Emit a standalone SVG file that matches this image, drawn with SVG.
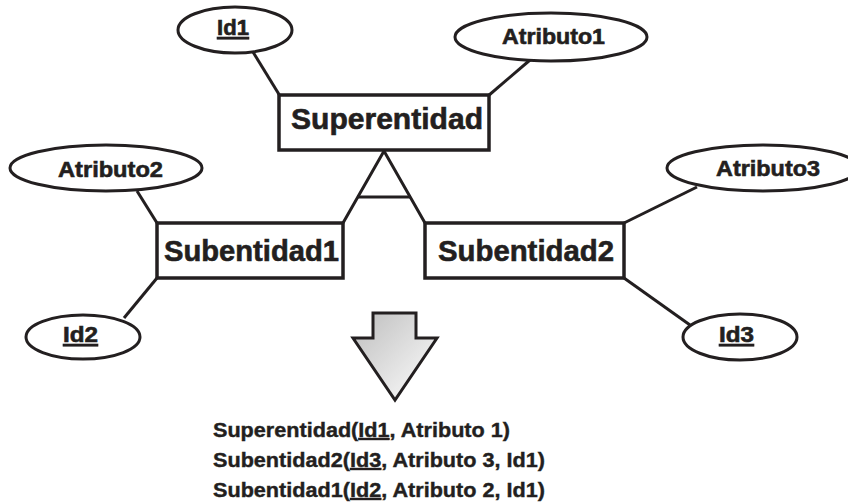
<svg xmlns="http://www.w3.org/2000/svg" width="848" height="504" viewBox="0 0 848 504">
<style>
  .ent { fill: #ffffff; stroke: #231f20; stroke-width: 3.5; }
  .att { fill: #ffffff; stroke: #231f20; stroke-width: 3; }
  .ln { fill: none; stroke: #231f20; stroke-width: 3; stroke-linejoin: miter; }
  .t { font-family: "Liberation Sans", Arial, sans-serif; font-weight: bold; fill: #231f20; stroke: #231f20; stroke-width: 0.6; }
  .big { font-size: 29px; }
  .mid { font-size: 22px; }
  .small { font-size: 20px; stroke-width: 0.4; }
  .u { text-decoration: underline; }
</style>
<defs>
  <linearGradient id="arrowGrad" x1="0" y1="0" x2="1" y2="1">
    <stop offset="0" stop-color="#bdbdbd"/>
    <stop offset="1" stop-color="#ffffff"/>
  </linearGradient>
</defs>
<rect width="848" height="504" fill="#ffffff"/>

<g id="connectors">
  <line class="ln" x1="253" y1="52" x2="280" y2="96"/>
  <line class="ln" x1="530" y1="60" x2="488" y2="96"/>
  <line class="ln" x1="137" y1="191" x2="157" y2="223"/>
  <line class="ln" x1="124" y1="318" x2="157" y2="278"/>
  <line class="ln" x1="624" y1="223" x2="697" y2="187"/>
  <line class="ln" x1="624" y1="278" x2="690" y2="325"/>
  <polyline class="ln" points="343,223 384,151 425,223"/>
  <line class="ln" x1="357" y1="197" x2="411" y2="197"/>
</g>

<g id="Id1">
  <ellipse class="att" cx="235" cy="30" rx="57" ry="23"/>
  <text class="t mid u" x="217" y="35" textLength="32" lengthAdjust="spacingAndGlyphs">Id1</text>
</g>
<g id="Atributo1">
  <ellipse class="att" cx="551" cy="37" rx="96" ry="24"/>
  <text class="t mid" x="502" y="44" textLength="103" lengthAdjust="spacingAndGlyphs">Atributo1</text>
</g>
<g id="Superentidad">
  <rect class="ent" x="279" y="95" width="210" height="55"/>
  <text class="t big" x="291" y="129" textLength="192" lengthAdjust="spacingAndGlyphs">Superentidad</text>
</g>
<g id="Atributo2">
  <ellipse class="att" cx="106" cy="168" rx="96" ry="23"/>
  <text class="t mid" x="58" y="177" textLength="105" lengthAdjust="spacingAndGlyphs">Atributo2</text>
</g>
<g id="Atributo3">
  <ellipse class="att" cx="763" cy="168" rx="96" ry="23"/>
  <text class="t mid" x="716" y="176" textLength="104" lengthAdjust="spacingAndGlyphs">Atributo3</text>
</g>
<g id="Subentidad1">
  <rect class="ent" x="157" y="223" width="186" height="55"/>
  <text class="t big" x="164" y="261" textLength="175" lengthAdjust="spacingAndGlyphs">Subentidad1</text>
</g>
<g id="Subentidad2">
  <rect class="ent" x="425" y="223" width="199" height="55"/>
  <text class="t big" x="438" y="261" textLength="176" lengthAdjust="spacingAndGlyphs">Subentidad2</text>
</g>
<g id="Id2">
  <ellipse class="att" cx="83" cy="337" rx="57" ry="22"/>
  <text class="t mid u" x="63" y="342" textLength="35" lengthAdjust="spacingAndGlyphs">Id2</text>
</g>
<g id="Id3">
  <ellipse class="att" cx="740" cy="337" rx="57" ry="23"/>
  <text class="t mid u" x="719" y="342" textLength="35" lengthAdjust="spacingAndGlyphs">Id3</text>
</g>

<g id="arrow">
  <polygon points="373,313 416,313 416,338 437,338 395,400 353,338 373,338" fill="url(#arrowGrad)" stroke="#231f20" stroke-width="3" stroke-linejoin="miter"/>
</g>

<g id="relations">
  <text class="t small" x="213" y="437" textLength="297" lengthAdjust="spacingAndGlyphs">Superentidad(<tspan class="u">Id1</tspan>, Atributo 1)</text>
  <text class="t small" x="213" y="467" textLength="332" lengthAdjust="spacingAndGlyphs">Subentidad2(<tspan class="u">Id3</tspan>, Atributo 3, Id1)</text>
  <text class="t small" x="213" y="497" textLength="332" lengthAdjust="spacingAndGlyphs">Subentidad1(<tspan class="u">Id2</tspan>, Atributo 2, Id1)</text>
</g>
</svg>
